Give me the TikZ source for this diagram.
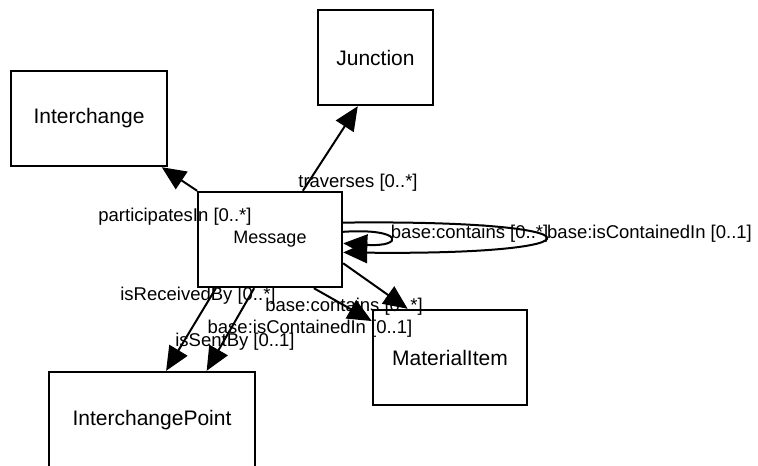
\documentclass[tikz,border=0pt]{standalone}
\usepackage{fontspec}
\setmainfont{Liberation Sans}
\usetikzlibrary{arrows.meta}
\tikzset{
  cls/.style={draw, line width=2.4pt, minimum height=95pt, inner sep=0pt,
    font=\fontsize{21}{21}\selectfont},
  lbl/.style={inner sep=0pt, font=\fontsize{18.5}{18.5}\selectfont},
}
\begin{document}
\begin{tikzpicture}[x=1pt, y=-1pt]
      \useasboundingbox (0,0) rectangle (758,466);
      \draw
        (89,118.5) node[cls, minimum width=156pt] (ich){Interchange}
        (375.5,57.5) node[cls, minimum width=115pt] (jct){Junction}
        (270,239.5) node[cls, minimum width=144pt, font=\fontsize{18}{18}\selectfont] (msg){Message}
        (450,357.5) node[cls, minimum width=154pt] (mat){MaterialItem}
        (152,420) node[cls, minimum width=206pt, minimum height=96pt] (ip){InterchangePoint};
      \begin{scope}[line width=2pt, -{Triangle[length=24pt, width=21pt]}]
        \draw (msg) to (ich);
        \draw (msg.56) to (jct.-110);
        \draw (msg.-138) to (ip.74);
        \draw (msg.-108) to (ip.42);
        \draw (msg.-18) to (mat.131);
        \draw (msg.-48) to (mat.155);
        \draw (msg.13) .. controls +(268,-3) and +(268,3) .. (msg.-10)
          node[lbl, pos=0.5, anchor=west, xshift=2pt, yshift=3.5pt] (lcin){base:isContainedIn [0..1]};
        \draw (msg.6) .. controls +(61,-4) and +(61,4) .. (msg.-3)
          node[lbl, pos=0.5, anchor=west, xshift=1pt, yshift=3.5pt] (lcon){base:contains [0..*]};
      \end{scope}
      \draw
        (175,217) node[lbl] (lpart){participatesIn [0..*]}
        (358,183) node[lbl] (ltrav){traverses [0..*]}
        (198,296) node[lbl] (lrecv){isReceivedBy [0..*]}
        (235,342) node[lbl] (lsent){isSentBy [0..1]}
        (344,307) node[lbl] (lbcon){base:contains [0..*]}
        (310,329) node[lbl] (lbcin){base:isContainedIn [0..1]};
    \end{tikzpicture}
\end{document}
